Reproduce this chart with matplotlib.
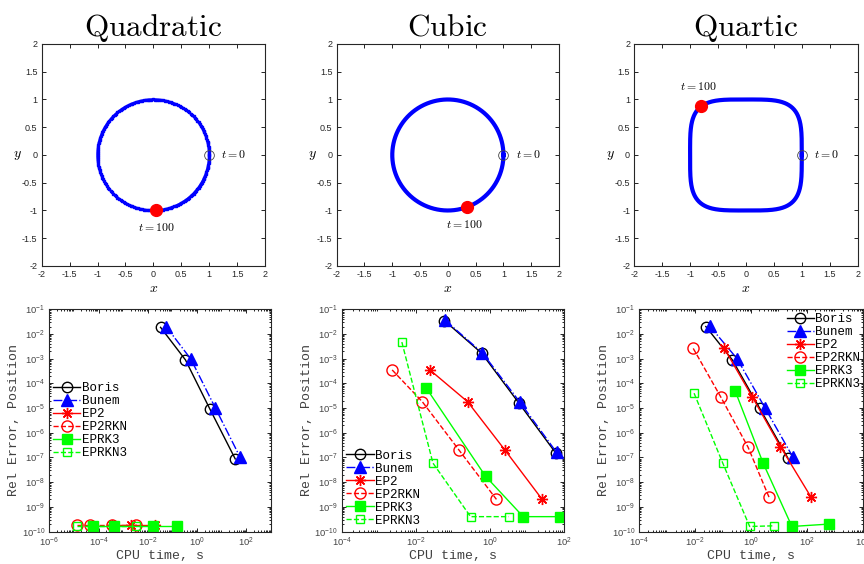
import numpy as np
import matplotlib.pyplot as plt
from matplotlib.ticker import LogLocator, NullFormatter, FixedLocator

plt.rcParams['mathtext.fontset'] = 'cm'
plt.rcParams['axes.unicode_minus'] = False
plt.rcParams['font.family'] = ['Liberation Sans', 'DejaVu Sans']

# ---- trajectories (top row) ----
titles = ['Quadratic', 'Cubic', 'Quartic']
shape_power = [2, 2, 4]          # |x|^p + |y|^p = 1
start_x, start_y = 1.0, 0.0
end_x = [0.05, 0.35, -0.80]
end_y = [-1.00, -0.94, 0.88]
plane_ticks = [-2, -1.5, -1, -0.5, 0, 0.5, 1, 1.5, 2]
plane_tick_text = ['-2', '-1.5', '-1', '-0.5', '0', '0.5', '1', '1.5', '2']

# ---- work-precision data (bottom row) ----
methods = ['Boris', 'Bunem', 'EP2', 'EP2RKN', 'EPRK3', 'EPRKN3']

quad_cpu = [[0.0327, 0.336, 3.33, 35.2],
            [0.055, 0.56, 5.5, 56.0],
            [3.5e-4, 2.0e-3, 1.95e-2],
            [1.35e-5, 4.5e-5, 3.4e-4, 3.2e-3],
            [5.8e-5, 4.3e-4, 1.6e-2, 0.15],
            [1.35e-5, 5.5e-5, 4.3e-4, 3.2e-3]]
quad_err = [[1.86e-2, 8.9e-4, 8.9e-6, 8.7e-8],
            [2.0e-2, 9.5e-4, 1.0e-5, 1.0e-7],
            [1.9e-10, 1.9e-10, 1.9e-10],
            [1.9e-10, 1.9e-10, 1.9e-10, 1.9e-10],
            [1.7e-10, 1.7e-10, 1.7e-10, 1.7e-10],
            [1.75e-10, 1.75e-10, 1.75e-10, 1.75e-10]]

cubic_cpu = [[0.059, 0.60, 6.0, 60.0],
             [0.062, 0.63, 6.5, 63.0],
             [0.024, 0.25, 2.57, 25.7],
             [2.3e-3, 0.015, 0.148, 1.5],
             [0.019, 0.76, 7.9, 78.0],
             [4.2e-3, 0.029, 0.30, 3.2]]
cubic_err = [[3.5e-2, 1.66e-3, 1.62e-5, 1.5e-7],
             [3.6e-2, 1.7e-3, 1.7e-5, 1.6e-7],
             [3.5e-4, 1.8e-5, 1.95e-7, 2.0e-9],
             [3.5e-4, 1.8e-5, 1.95e-7, 2.0e-9],
             [6.6e-5, 1.74e-8, 4.0e-10, 4.0e-10],
             [4.7e-3, 5.9e-8, 4.0e-10, 4.0e-10]]

quart_cpu = [[0.024, 0.214, 2.04, 20.9],
             [0.033, 0.32, 3.1, 31.6],
             [0.11, 1.12, 11.2, 141.0],
             [8.5e-3, 0.083, 0.78, 4.4],
             [0.27, 2.7, 29.0, 617.0],
             [9.1e-3, 0.095, 0.89, 6.6]]
quart_err = [[2.0e-2, 8.9e-4, 9.8e-6, 9.3e-8],
             [2.1e-2, 9.8e-4, 1.05e-5, 1.02e-7],
             [2.6e-3, 2.75e-5, 2.75e-7, 2.45e-9],
             [2.6e-3, 2.75e-5, 2.6e-7, 2.45e-9],
             [4.9e-5, 5.9e-8, 1.6e-10, 2.0e-10],
             [4.0e-5, 6.2e-8, 1.6e-10, 1.7e-10]]

green = (0, 1, 0)
asterisk = (8, 2, 0)
styles = [dict(color='k', ls='-', marker='o', mfc='none', ms=7.5),
          dict(color='b', ls='-.', marker='^', mfc='b', ms=9),
          dict(color='r', ls='-', marker=asterisk, mfc='r', ms=8),
          dict(color='r', ls='--', marker='o', mfc='none', ms=8),
          dict(color=green, ls='-', marker='s', mfc=green, ms=6.5),
          dict(color=green, ls='--', marker='s', mfc='none', ms=6)]

mono = 'Liberation Mono'
tick_grey = '#262626'

fig = plt.figure(figsize=(8.64, 5.64), dpi=100)

top_boxes = [[0.0483, 0.5284, 0.2584, 0.3936],
             [0.3897, 0.5284, 0.2573, 0.3936],
             [0.7341, 0.5284, 0.2585, 0.3936]]
bot_boxes = [[0.0571, 0.0576, 0.2566, 0.394],
             [0.3955, 0.0576, 0.2573, 0.394],
             [0.7400, 0.0576, 0.2586, 0.394]]

end_text_pos = [(0.05, -1.32), (0.30, -1.27), (-0.85, 1.22)]

theta = np.linspace(0, 2 * np.pi, 721)
for i in range(3):
    ax = fig.add_axes(top_boxes[i])
    p = shape_power[i]
    c, s = np.cos(theta), np.sin(theta)
    r = (np.abs(c) ** p + np.abs(s) ** p) ** (-1.0 / p)
    if i == 0:
        ax.plot(r * c, r * s, color='b', lw=1.8)
        ax.plot(r[::4] * c[::4], r[::4] * s[::4], ls='none', marker='s',
                ms=2.0, color='b', mec='b')
    else:
        ax.plot(r * c, r * s, color='b', lw=3.0)
    ax.plot(start_x, start_y, 'o', mfc='none', mec='#444444', ms=7, mew=0.6)
    ax.text(start_x + 0.22, start_y, '$t=0$', fontsize=8.5, va='center', ha='left')
    ax.plot(end_x[i], end_y[i], 'o', color='r', ms=8.5)
    tx, ty = end_text_pos[i]
    ax.text(tx, ty, '$t=100$', fontsize=8.5, va='center', ha='center')

    ax.set_xlim(-2, 2)
    ax.set_ylim(-2, 2)
    ax.set_xticks(plane_ticks)
    ax.set_yticks(plane_ticks)
    ax.set_xticklabels(plane_tick_text)
    ax.set_yticklabels(plane_tick_text)
    ax.tick_params(direction='in', top=True, right=True, length=3, width=0.6,
                   labelsize=6.5, labelcolor=tick_grey, pad=3)
    ax.set_xlabel('$x$', fontsize=10, labelpad=1)
    ax.set_ylabel('$y$', fontsize=10, rotation=0, labelpad=3, va='center')
    ax.set_title(r'$\mathrm{' + titles[i] + '}$', fontsize=22.5, pad=6)
    for sp in ax.spines.values():
        sp.set_linewidth(0.8)
        sp.set_color('#262626')

panel_cpu = [quad_cpu, cubic_cpu, quart_cpu]
panel_err = [quad_err, cubic_err, quart_err]
panel_xlim = [(1e-6, 1e3), (1e-4, 1e2), (1e-4, 1e4)]
panel_xticks = [[1e-6, 1e-4, 1e-2, 1e0, 1e2],
                [1e-4, 1e-2, 1e0, 1e2],
                [1e-4, 1e-2, 1e0, 1e2, 1e4]]
legend_spots = [dict(loc='center left', bbox_to_anchor=(0.005, 0.50)),
                dict(loc='lower left', bbox_to_anchor=(0.01, 0.01)),
                dict(loc='upper right', bbox_to_anchor=(1.0, 0.995))]

for i in range(3):
    ax = fig.add_axes(bot_boxes[i])
    for k, name in enumerate(methods):
        st = styles[k]
        ax.plot(panel_cpu[i][k], panel_err[i][k], color=st['color'], ls=st['ls'],
                marker=st['marker'], mfc=st['mfc'], mec=st['color'], ms=st['ms'],
                lw=1.0, mew=1.0, label=name)
    ax.set_xscale('log')
    ax.set_yscale('log')
    ax.set_xlim(*panel_xlim[i])
    ax.set_ylim(1e-10, 1e-1)
    ax.xaxis.set_major_locator(FixedLocator(panel_xticks[i]))
    ax.yaxis.set_major_locator(LogLocator(base=10, numticks=20))
    ax.xaxis.set_minor_locator(LogLocator(base=10, subs=np.arange(2, 10), numticks=100))
    ax.yaxis.set_minor_locator(LogLocator(base=10, subs=np.arange(2, 10), numticks=100))
    ax.xaxis.set_minor_formatter(NullFormatter())
    ax.yaxis.set_minor_formatter(NullFormatter())
    ax.tick_params(which='both', direction='in', top=True, right=True, width=0.6,
                   labelsize=6.8, labelcolor='#444444', pad=3)
    ax.tick_params(which='major', length=3)
    ax.tick_params(which='minor', length=1.5)
    ax.set_xlabel('CPU time, s', family=mono, fontsize=9.5, color='#404040', labelpad=1)
    ax.set_ylabel('Rel Error, Position', family=mono, fontsize=9.5, color='#404040',
                  labelpad=1)
    for sp in ax.spines.values():
        sp.set_linewidth(0.8)
        sp.set_color('#262626')
    ax.legend(frameon=False, prop={'family': mono, 'size': 9}, numpoints=1,
              handlelength=2.2, handletextpad=0.1, labelspacing=0.08,
              borderaxespad=0.0, borderpad=0.2, **legend_spots[i])

fig.savefig('out.png', dpi=100)
